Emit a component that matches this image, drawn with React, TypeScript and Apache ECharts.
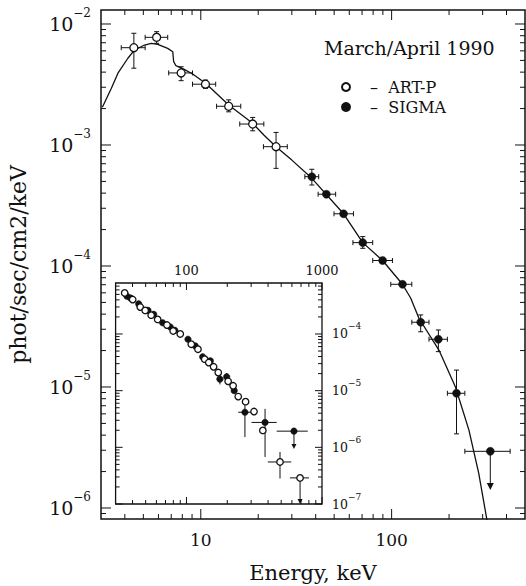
import { useEffect, useRef } from 'react';
import * as echarts from 'echarts';

const FONT = '"DejaVu Serif", "Liberation Serif", serif';
const INK = '#111';

// ---------- axis ranges ----------
const MAIN_E_MIN = 3;
const MAIN_E_MAX = 500;
const MAIN_F_MIN = 8.11e-7;
const MAIN_F_MAX = 1.305e-2;
const INSET_E_MIN = 30;
const INSET_E_MAX = 1000;
const INSET_F_MIN = 1e-7;
const INSET_F_MAX = 7.94e-4;

// ---------- tick values ----------
const mainXMajor = [10, 100];
const mainXMinor = [4, 5, 6, 7, 8, 9, 20, 30, 40, 50, 60, 70, 80, 90, 200, 300, 400];
const insetXMajor = [100, 1000];
const insetXMinor = [40, 50, 60, 70, 80, 90, 200, 300, 400, 500, 600, 700, 800, 900];
const yDecades = [1e-7, 1e-6, 1e-5, 1e-4, 1e-3, 1e-2];
const minorSteps = [2, 3, 4, 5, 6, 7, 8, 9];

// ---------- main panel: ART-P (open) ----------
const artpE = [4.46, 5.87, 7.89, 10.58, 14.0, 18.7, 24.8];
const artpF = [6.37e-3, 7.76e-3, 3.94e-3, 3.18e-3, 2.09e-3, 1.49e-3, 9.68e-4];
const artpELo = [3.83, 5.11, 6.79, 9.05, 12.1, 16.0, 21.3];
const artpEHi = [5.11, 6.71, 9.05, 11.97, 16.2, 21.4, 28.4];
const artpFLo = [4.31e-3, 6.92e-3, 3.40e-3, 2.94e-3, 1.88e-3, 1.31e-3, 6.41e-4];
const artpFHi = [8.38e-3, 8.64e-3, 4.43e-3, 3.44e-3, 2.36e-3, 1.69e-3, 1.27e-3];

// ---------- main panel: SIGMA (filled) ----------
const sigmaE = [38.2, 45.5, 56.0, 70.6, 89.7, 114, 142, 175.8, 218.8];
const sigmaF = [5.47e-4, 3.92e-4, 2.7e-4, 1.56e-4, 1.11e-4, 7.06e-5, 3.43e-5, 2.48e-5, 8.87e-6];
const sigmaELo = [35.1, 41.2, 49.9, 62.7, 79.6, 99, 127.6, 157, 196];
const sigmaEHi = [41.5, 50.9, 63.1, 79.6, 101, 127.6, 157, 196, 242];
const sigmaFLo = [4.67e-4, 3.92e-4, 2.7e-4, 1.4e-4, 1.11e-4, 7.06e-5, 2.86e-5, 1.96e-5, 4.1e-6];
const sigmaFHi = [6.3e-4, 3.92e-4, 2.7e-4, 1.75e-4, 1.11e-4, 7.06e-5, 3.94e-5, 2.96e-5, 1.38e-5];
// SIGMA upper limit
const sigmaLimE = [329];
const sigmaLimF = [2.94e-6];
const sigmaLimELo = [242];
const sigmaLimEHi = [418];
const sigmaLimTip = [1.41e-6];

// ---------- main panel: model curve ----------
const modelE = [3.05, 3.4, 3.68, 4.15, 4.5, 5.07, 5.5, 5.95, 6.71, 7.13, 7.21, 7.41, 8.19, 9.06, 10.6, 14.0, 18.7, 21.4, 24.8, 30, 38.2, 56.0, 70.6, 89.7, 114, 126, 139, 177, 216, 254, 286, 318];
const modelF = [2.05e-3, 2.94e-3, 3.92e-3, 5.21e-3, 6.1e-3, 6.7e-3, 6.92e-3, 6.79e-3, 6.29e-3, 5.9e-3, 4.88e-3, 4.52e-3, 4.22e-3, 3.86e-3, 3.24e-3, 2.14e-3, 1.51e-3, 1.21e-3, 9.68e-4, 7.5e-4, 5.3e-4, 2.7e-4, 1.56e-4, 1.11e-4, 7.06e-5, 5.41e-5, 3.7e-5, 2.02e-5, 1.0e-5, 4.42e-6, 1.94e-6, 7.5e-7];

// ---------- inset: open points ----------
const insetOpenE = [35.0, 40.1, 45.6, 49.6, 54.9, 61.3, 71.8, 79.8, 90, 108.5, 121.6, 136.3, 146, 158.6, 171.6, 203, 221, 241, 273, 315, 366, 490];
const insetOpenF = [5.31e-4, 4.06e-4, 2.98e-4, 2.61e-4, 2.15e-4, 1.81e-4, 1.44e-4, 1.13e-4, 1.0e-4, 6.6e-5, 5.39e-5, 3.6e-5, 3.13e-5, 2.64e-5, 2.09e-5, 1.46e-5, 1.22e-5, 7.85e-6, 6.4e-6, 4.28e-6, 1.99e-6, 5.52e-7];
// inset: open point error bars
const insetOpenErrE = [490];
const insetOpenErrF = [5.52e-7];
const insetOpenErrELo = [398];
const insetOpenErrEHi = [593];
const insetOpenErrFLo = [2.82e-7];
const insetOpenErrFHi = [8.28e-7];
// inset: open upper limit
const insetOpenLimE = [689];
const insetOpenLimF = [2.89e-7];
const insetOpenLimELo = [580];
const insetOpenLimEHi = [801];
const insetOpenLimTip = [1.0e-7];

// ---------- inset: filled points ----------
const insetFillE = [36.4, 38.5, 44.4, 52, 57.3, 66.7, 75.9, 82, 102.6, 116, 131.7, 150, 176.5, 198, 225, 270, 380];
const insetFillF = [4.64e-4, 4.33e-4, 3.4e-4, 2.61e-4, 2.22e-4, 1.58e-4, 1.33e-4, 1.16e-4, 8.07e-5, 6.16e-5, 3.95e-5, 3.36e-5, 1.6e-5, 1.76e-5, 1.0e-5, 4.16e-6, 2.75e-6];
const insetFillErrE = [176.5, 198, 270, 380];
const insetFillErrF = [1.6e-5, 1.76e-5, 4.16e-6, 2.75e-6];
const insetFillErrELo = [167, 190, 241, 302];
const insetFillErrEHi = [187, 207, 302, 463];
const insetFillErrFLo = [1.29e-5, 1.5e-5, 1.52e-6, 6.76e-7];
const insetFillErrFHi = [1.95e-5, 2.05e-5, 7.15e-6, 4.77e-6];
const insetFillLimE = [621];
const insetFillLimF = [1.93e-6];
const insetFillLimELo = [463];
const insetFillLimEHi = [785];
const insetFillLimTip = [9.35e-7];

const pairs = (xs: number[], ys: number[]) => xs.map((x, i) => [x, ys[i]]);
const minorsIn = (lo: number, hi: number) =>
  yDecades.flatMap((d) => minorSteps.map((m) => m * d)).filter((v) => v > lo && v < hi);
const majorsIn = (lo: number, hi: number) => yDecades.filter((v) => v >= lo && v <= hi);

const isDecade = (v: number) => {
  const l = Math.log10(v);
  return Math.abs(l - Math.round(l)) < 1e-6;
};

function xTickSeries(xi: number, values: number[], yRef: number, len: number) {
  return {
    type: 'custom',
    xAxisIndex: xi,
    yAxisIndex: xi,
    silent: true,
    z: 6,
    encode: { x: 0, y: 1 },
    data: values.map((v) => [v, yRef]),
    renderItem: (params: any, api: any) => {
      const cs = params.coordSys;
      const x = api.coord([api.value(0), api.value(1)])[0];
      const st = { stroke: INK, lineWidth: 1 };
      return {
        type: 'group',
        children: [
          { type: 'line', shape: { x1: x, y1: cs.y + cs.height, x2: x, y2: cs.y + cs.height - len }, style: st },
          { type: 'line', shape: { x1: x, y1: cs.y, x2: x, y2: cs.y + len }, style: st },
        ],
      };
    },
  };
}

function yTickSeries(yi: number, values: number[], xRef: number, len: number) {
  return {
    type: 'custom',
    xAxisIndex: yi,
    yAxisIndex: yi,
    silent: true,
    z: 6,
    encode: { x: 0, y: 1 },
    data: values.map((v) => [xRef, v]),
    renderItem: (params: any, api: any) => {
      const cs = params.coordSys;
      const y = api.coord([api.value(0), api.value(1)])[1];
      const st = { stroke: INK, lineWidth: 1 };
      return {
        type: 'group',
        children: [
          { type: 'line', shape: { x1: cs.x, y1: y, x2: cs.x + len, y2: y }, style: st },
          { type: 'line', shape: { x1: cs.x + cs.width, y1: y, x2: cs.x + cs.width - len, y2: y }, style: st },
        ],
      };
    },
  };
}

function errorBarSeries(idx: number, E: number[], F: number[], ELo: number[], EHi: number[], FLo: number[], FHi: number[], cap: number) {
  return {
    type: 'custom',
    xAxisIndex: idx,
    yAxisIndex: idx,
    silent: true,
    z: 3,
    encode: { x: 0, y: 1 },
    data: E.map((e, i) => [e, F[i], ELo[i], EHi[i], FLo[i], FHi[i]]),
    renderItem: (_params: any, api: any) => {
      const e = api.value(0);
      const f = api.value(1);
      const l = api.coord([api.value(2), f]);
      const r = api.coord([api.value(3), f]);
      const lo = api.coord([e, api.value(4)]);
      const hi = api.coord([e, api.value(5)]);
      const st = { stroke: INK, lineWidth: 1 };
      const ch: any[] = [{ type: 'line', shape: { x1: l[0], y1: l[1], x2: r[0], y2: r[1] }, style: st }];
      if (cap > 0) {
        ch.push({ type: 'line', shape: { x1: l[0], y1: l[1] - cap, x2: l[0], y2: l[1] + cap }, style: st });
        ch.push({ type: 'line', shape: { x1: r[0], y1: r[1] - cap, x2: r[0], y2: r[1] + cap }, style: st });
      }
      if (Math.abs(lo[1] - hi[1]) > 0.5) {
        ch.push({ type: 'line', shape: { x1: lo[0], y1: lo[1], x2: hi[0], y2: hi[1] }, style: st });
        if (cap > 0) {
          ch.push({ type: 'line', shape: { x1: lo[0] - cap, y1: lo[1], x2: lo[0] + cap, y2: lo[1] }, style: st });
          ch.push({ type: 'line', shape: { x1: hi[0] - cap, y1: hi[1], x2: hi[0] + cap, y2: hi[1] }, style: st });
        }
      }
      return { type: 'group', children: ch };
    },
  };
}

function upperLimitSeries(idx: number, E: number[], F: number[], ELo: number[], EHi: number[], Tip: number[], cap: number, head: number) {
  return {
    type: 'custom',
    xAxisIndex: idx,
    yAxisIndex: idx,
    silent: true,
    z: 3,
    encode: { x: 0, y: 1 },
    data: E.map((e, i) => [e, F[i], ELo[i], EHi[i], Tip[i]]),
    renderItem: (_params: any, api: any) => {
      const e = api.value(0);
      const f = api.value(1);
      const p = api.coord([e, f]);
      const l = api.coord([api.value(2), f]);
      const r = api.coord([api.value(3), f]);
      const t = api.coord([e, api.value(4)]);
      const st = { stroke: INK, lineWidth: 1 };
      const ch: any[] = [
        { type: 'line', shape: { x1: l[0], y1: l[1], x2: r[0], y2: r[1] }, style: st },
        { type: 'line', shape: { x1: p[0], y1: p[1], x2: t[0], y2: t[1] - head + 1 }, style: st },
        {
          type: 'polygon',
          shape: { points: [[t[0] - head / 2, t[1] - head], [t[0] + head / 2, t[1] - head], [t[0], t[1]]] },
          style: { fill: INK },
        },
      ];
      if (cap > 0) {
        ch.push({ type: 'line', shape: { x1: l[0], y1: l[1] - cap, x2: l[0], y2: l[1] + cap }, style: st });
        ch.push({ type: 'line', shape: { x1: r[0], y1: r[1] - cap, x2: r[0], y2: r[1] + cap }, style: st });
      }
      return { type: 'group', children: ch };
    },
  };
}

const openStyle = { color: '#fff', borderColor: INK, borderWidth: 1.3, opacity: 1 };
const fillStyle = { color: INK, borderColor: INK, borderWidth: 0.5, opacity: 1 };

function buildOption(): any {
  const mainYLabel = {
    show: true,
    margin: 10,
    color: INK,
    fontFamily: FONT,
    formatter: (v: number) => (isDecade(v) ? `{b|10}{s|−${-Math.round(Math.log10(v))}}` : ''),
    rich: {
      b: { fontFamily: FONT, fontSize: 19, color: INK, lineHeight: 34 },
      s: { fontFamily: FONT, fontSize: 12, color: INK, lineHeight: 14, verticalAlign: 'top' },
    },
  };
  const insetYLabel = {
    show: true,
    margin: 10,
    color: INK,
    fontFamily: FONT,
    align: 'left',
    formatter: (v: number) => (isDecade(v) ? `{b|10}{s|−${-Math.round(Math.log10(v))}}` : ''),
    rich: {
      b: { fontFamily: FONT, fontSize: 12.5, color: INK, lineHeight: 24 },
      s: { fontFamily: FONT, fontSize: 9, color: INK, lineHeight: 10, verticalAlign: 'top' },
    },
  };
  const xFmt = (v: number) => (isDecade(v) ? String(Math.round(v)) : '');

  return {
    animation: false,
    backgroundColor: '#fff',
    title: {
      text: 'March/April 1990',
      left: 324,
      top: 38,
      padding: 0,
      textStyle: { fontFamily: FONT, fontSize: 19, fontWeight: 'normal', color: INK },
    },
    legend: {
      orient: 'vertical',
      left: 341,
      top: 77,
      itemWidth: 8,
      itemHeight: 8,
      itemGap: 0,
      icon: 'circle',
      selectedMode: false,
      padding: 0,
      data: ['ART-P', 'SIGMA'],
      formatter: (n: string) => `{d|–}  ${n}`,
      textStyle: {
        fontFamily: FONT,
        fontSize: 16,
        color: INK,
        lineHeight: 20,
        rich: { d: { fontFamily: FONT, fontSize: 16, color: INK, lineHeight: 20, padding: [0, 0, 0, 15] } },
      },
    },
    grid: [
      { left: 101, top: 10, width: 424, height: 509, show: true, borderColor: INK, borderWidth: 1.5, backgroundColor: 'transparent', outerBoundsMode: 'none', containLabel: false },
      { left: 115.6, top: 283, width: 206.4, height: 221, show: true, borderColor: INK, borderWidth: 1.3, backgroundColor: '#fff', outerBoundsMode: 'none', containLabel: false },
    ],
    xAxis: [
      {
        type: 'log', logBase: 10, gridIndex: 0, min: MAIN_E_MIN, max: MAIN_E_MAX,
        axisLine: { show: false }, axisTick: { show: false }, splitLine: { show: false }, minorTick: { show: false },
        axisLabel: { show: true, margin: 12, color: INK, fontFamily: FONT, fontSize: 17, formatter: xFmt },
        name: 'Energy, keV', nameLocation: 'middle', nameGap: 43,
        nameTextStyle: { fontFamily: FONT, fontSize: 21, color: INK },
      },
      {
        type: 'log', logBase: 10, gridIndex: 1, min: INSET_E_MIN, max: INSET_E_MAX, position: 'top',
        axisLine: { show: false }, axisTick: { show: false }, splitLine: { show: false }, minorTick: { show: false },
        axisLabel: { show: true, margin: 6, color: INK, fontFamily: FONT, fontSize: 13, formatter: xFmt },
      },
    ],
    yAxis: [
      {
        type: 'log', logBase: 10, gridIndex: 0, min: MAIN_F_MIN, max: MAIN_F_MAX,
        axisLine: { show: false }, axisTick: { show: false }, splitLine: { show: false }, minorTick: { show: false },
        axisLabel: mainYLabel,
        name: 'phot/sec/cm2/keV', nameLocation: 'middle', nameGap: 72, nameRotate: 90,
        nameTextStyle: { fontFamily: FONT, fontSize: 22, color: INK },
      },
      {
        type: 'log', logBase: 10, gridIndex: 1, min: INSET_F_MIN, max: INSET_F_MAX, position: 'right',
        axisLine: { show: false }, axisTick: { show: false }, splitLine: { show: false }, minorTick: { show: false },
        axisLabel: insetYLabel,
      },
    ],
    series: [
      // ticks, main panel
      xTickSeries(0, mainXMajor, MAIN_F_MIN, 10),
      xTickSeries(0, mainXMinor, MAIN_F_MIN, 5),
      yTickSeries(0, majorsIn(MAIN_F_MIN, MAIN_F_MAX), MAIN_E_MIN, 10),
      yTickSeries(0, minorsIn(MAIN_F_MIN, MAIN_F_MAX), MAIN_E_MIN, 5),
      // ticks, inset
      xTickSeries(1, insetXMajor, INSET_F_MIN, 7),
      xTickSeries(1, insetXMinor, INSET_F_MIN, 4),
      yTickSeries(1, majorsIn(INSET_F_MIN, INSET_F_MAX), INSET_E_MIN, 7),
      yTickSeries(1, minorsIn(INSET_F_MIN, INSET_F_MAX), INSET_E_MIN, 4),
      // model curve
      {
        type: 'line', name: 'model', xAxisIndex: 0, yAxisIndex: 0, data: pairs(modelE, modelF),
        showSymbol: false, symbol: 'none', smooth: false, clip: true, z: 2,
        lineStyle: { color: INK, width: 1.3 },
      },
      // main error bars
      errorBarSeries(0, artpE, artpF, artpELo, artpEHi, artpFLo, artpFHi, 2.5),
      errorBarSeries(0, sigmaE, sigmaF, sigmaELo, sigmaEHi, sigmaFLo, sigmaFHi, 2.5),
      upperLimitSeries(0, sigmaLimE, sigmaLimF, sigmaLimELo, sigmaLimEHi, sigmaLimTip, 2.5, 7),
      // main markers
      { type: 'scatter', name: 'ART-P', xAxisIndex: 0, yAxisIndex: 0, data: pairs(artpE, artpF), symbol: 'circle', symbolSize: 8, itemStyle: openStyle, z: 4 },
      { type: 'scatter', name: 'SIGMA', xAxisIndex: 0, yAxisIndex: 0, data: pairs(sigmaE, sigmaF), symbol: 'circle', symbolSize: 8, itemStyle: fillStyle, z: 4 },
      { type: 'scatter', name: 'SIGMA', xAxisIndex: 0, yAxisIndex: 0, data: pairs(sigmaLimE, sigmaLimF), symbol: 'circle', symbolSize: 8, itemStyle: fillStyle, z: 4 },
      // inset error bars and limits
      errorBarSeries(1, insetOpenErrE, insetOpenErrF, insetOpenErrELo, insetOpenErrEHi, insetOpenErrFLo, insetOpenErrFHi, 0),
      errorBarSeries(1, insetFillErrE, insetFillErrF, insetFillErrELo, insetFillErrEHi, insetFillErrFLo, insetFillErrFHi, 0),
      upperLimitSeries(1, insetOpenLimE, insetOpenLimF, insetOpenLimELo, insetOpenLimEHi, insetOpenLimTip, 0, 5),
      upperLimitSeries(1, insetFillLimE, insetFillLimF, insetFillLimELo, insetFillLimEHi, insetFillLimTip, 0, 5),
      // inset markers
      { type: 'scatter', name: 'SIGMA', xAxisIndex: 1, yAxisIndex: 1, data: pairs(insetFillE, insetFillF), symbol: 'circle', symbolSize: 6.5, itemStyle: fillStyle, z: 4 },
      { type: 'scatter', name: 'SIGMA', xAxisIndex: 1, yAxisIndex: 1, data: pairs(insetFillLimE, insetFillLimF), symbol: 'circle', symbolSize: 6.5, itemStyle: fillStyle, z: 4 },
      { type: 'scatter', name: 'ART-P', xAxisIndex: 1, yAxisIndex: 1, data: pairs(insetOpenE, insetOpenF), symbol: 'circle', symbolSize: 6.5, itemStyle: openStyle, z: 5 },
      { type: 'scatter', name: 'ART-P', xAxisIndex: 1, yAxisIndex: 1, data: pairs(insetOpenLimE, insetOpenLimF), symbol: 'circle', symbolSize: 6.5, itemStyle: openStyle, z: 5 },
    ],
  };
}

export default function App() {
  const ref = useRef<HTMLDivElement>(null);
  useEffect(() => {
    document.body.style.margin = '0';
    if (!ref.current) return;
    const chart = echarts.init(ref.current, null, { renderer: 'svg' });
    chart.setOption(buildOption());
    return () => chart.dispose();
  }, []);
  return <div ref={ref} style={{ width: 526, height: 586, background: '#fff' }} />;
}
